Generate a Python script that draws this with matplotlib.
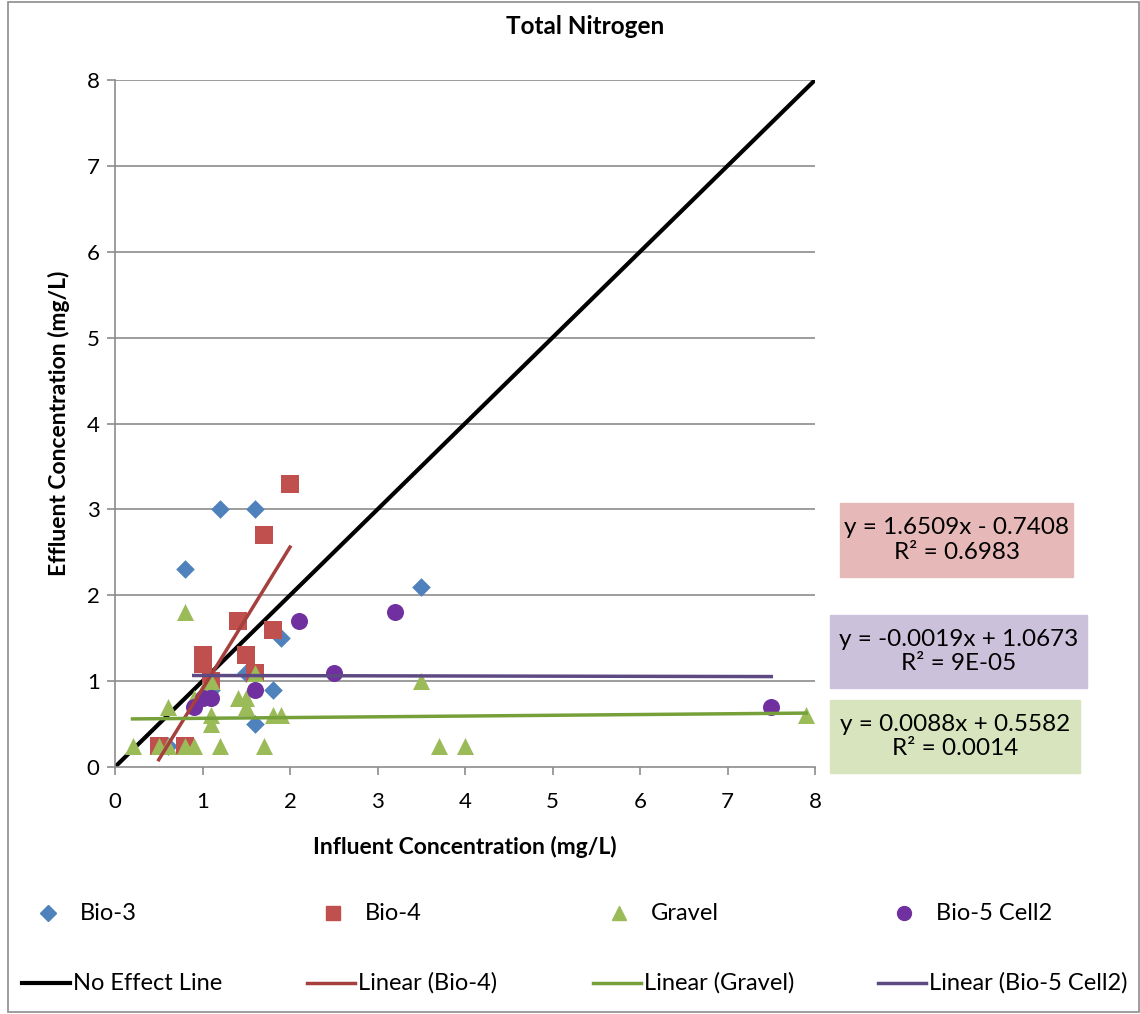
import numpy as np
import matplotlib
matplotlib.use("Agg")
from matplotlib import pyplot as plt
from matplotlib.lines import Line2D
from matplotlib.patches import Rectangle

plt.rcParams['font.family'] = ['Lato', 'DejaVu Sans']

# data
bio3_x = [0.8, 1.2, 1.6, 1.9, 1.5, 1.8, 1.6, 3.5, 0.6, 1.1]
bio3_y = [2.3, 3.0, 3.0, 1.5, 1.1, 0.9, 0.5, 2.1, 0.25, 0.9]

bio4_x = [0.5, 0.8, 1.0, 1.0, 1.1, 1.4, 1.5, 1.6, 1.7, 1.8, 2.0]
bio4_y = [0.25, 0.25, 1.3, 1.2, 1.0, 1.7, 1.3, 1.1, 2.7, 1.6, 3.3]

gravel_x = [0.2, 0.5, 0.6, 0.8, 0.9, 1.2, 1.7, 3.7, 4.0, 0.6, 0.8, 0.9, 1.0,
            1.1, 1.1, 1.1, 1.4, 1.5, 1.5, 1.6, 1.8, 1.9, 3.5, 7.9]
gravel_y = [0.25, 0.25, 0.25, 0.25, 0.25, 0.25, 0.25, 0.25, 0.25, 0.7, 1.8, 0.8, 0.9,
            1.0, 0.6, 0.5, 0.8, 0.8, 0.7, 1.1, 0.6, 0.6, 1.0, 0.6]

bio5_x = [0.9, 1.0, 1.1, 1.6, 2.1, 2.5, 3.2, 7.5]
bio5_y = [0.7, 0.8, 0.8, 0.9, 1.7, 1.1, 1.8, 0.7]

# trendline coefficients shown on the chart (slope, intercept)
bio4_fit = [1.6509, -0.7408]
gravel_fit = [0.0088, 0.5582]
bio5_fit = [-0.0019, 1.0673]
fit_labels = ["y = 1.6509x - 0.7408\nR² = 0.6983",
              "y = -0.0019x + 1.0673\nR² = 9E-05",
              "y = 0.0088x + 0.5582\nR² = 0.0014"]

c_bio3 = "#4F81BD"
c_bio4 = "#C0504D"
c_grav = "#9BBB59"
c_bio5 = "#7030A0"
l_bio4 = "#A5403D"
l_grav = "#76A03A"
l_bio5 = "#5E4A83"

W, H = 1140, 1014
fig = plt.figure(figsize=(W / 100, H / 100), dpi=100)
ax = fig.add_axes([115/W, 1-767/H, 700/W, 687/H])

# gridlines
for yv in range(1, 9):
    ax.axhline(yv, color="#8C8C8C", lw=1.2, zorder=0)

# no effect line
ax.plot([0, 8], [0, 8], color="black", lw=3, zorder=2)

ax.scatter(bio3_x, bio3_y, marker="D", s=90, color=c_bio3, zorder=3, linewidths=0)
ax.scatter(bio4_x, bio4_y, marker="s", s=150, color=c_bio4, zorder=3, linewidths=0)
ax.scatter(gravel_x, gravel_y, marker="^", s=150, color=c_grav, zorder=3, linewidths=0)
ax.scatter(bio5_x, bio5_y, marker="o", s=150, color=c_bio5, zorder=3, linewidths=0)

# trendlines over each series' x range
for xs, fit, col in [(bio4_x, bio4_fit, l_bio4),
                     (gravel_x, gravel_fit, l_grav),
                     (bio5_x, bio5_fit, l_bio5)]:
    xr = np.array([min(xs), max(xs)])
    ax.plot(xr, fit[0] * xr + fit[1], color=col, lw=2.5, zorder=4)

ax.set_xlim(0, 8)
ax.set_ylim(0, 8)
ax.set_xticks(range(0, 9))
ax.set_yticks(range(0, 9))
ax.tick_params(labelsize=16, color="#8C8C8C", length=6, width=1.2, pad=5)
ax.tick_params(axis="x", pad=12)
for s in ["top", "right"]:
    ax.spines[s].set_visible(False)
for s in ["left", "bottom"]:
    ax.spines[s].set_color("#8C8C8C")
    ax.spines[s].set_linewidth(1.2)

ax.set_xlabel("Influent Concentration (mg/L)", fontsize=16.5, fontweight="bold", labelpad=17)
ax.set_ylabel("Effluent Concentration (mg/L)", fontsize=16.5, fontweight="bold", labelpad=12)
fig.text(585/W, 1-27/H, "Total Nitrogen", fontsize=17.5, fontweight="bold",
         ha="center", va="center")

# equation boxes
boxes = [((840, 503, 233, 74), "#E6B9B8"),
         ((830, 615, 257, 73), "#CCC1DA"),
         ((830, 700, 250, 73), "#D7E4BD")]
for ((bx, by, bw, bh), col), txt in zip(boxes, fit_labels):
    fig.patches.append(Rectangle((bx/W, 1-(by+bh)/H), bw/W, bh/H,
                                 transform=fig.transFigure, color=col, zorder=0))
    fig.text((bx+bw/2)/W, 1-(by+bh/2)/H, txt, fontsize=17.5, ha="center",
             va="center", linespacing=1.2)

# outer chart frame
fig.patches.append(Rectangle((8/W, 0.002), 1 - 9/W, 0.996, transform=fig.transFigure,
                             fill=False, edgecolor="#8C8C8C", lw=1.2))

# legend, laid out by hand: two rows of four
marker_items = [("D", 8, c_bio3, "Bio-3"), ("s", 10, c_bio4, "Bio-4"),
                ("^", 10, c_grav, "Gravel"), ("o", 10, c_bio5, "Bio-5 Cell2")]
line_items = [("black", 3, "No Effect Line"), (l_bio4, 2.5, "Linear (Bio-4)"),
              (l_grav, 2.5, "Linear (Gravel)"), (l_bio5, 2.5, "Linear (Bio-5 Cell2)")]
col_w = 285.3
for i, (mk, ms, col, lab) in enumerate(marker_items):
    x0 = 22 + col_w * i
    fig.add_artist(Line2D([(x0 + 26) / W], [1 - 913/H], marker=mk, ms=ms, color=col,
                          ls="none", transform=fig.transFigure))
    fig.text((x0 + 58) / W, 1 - 913/H, lab, fontsize=17, va="center")
for i, (col, lw, lab) in enumerate(line_items):
    x0 = 22 + col_w * i
    fig.add_artist(Line2D([x0 / W, (x0 + 48) / W], [1 - 983/H, 1 - 983/H], color=col,
                          lw=lw, transform=fig.transFigure))
    fig.text((x0 + 51) / W, 1 - 983/H, lab, fontsize=17, va="center")

fig.savefig("out.png", dpi=100)
